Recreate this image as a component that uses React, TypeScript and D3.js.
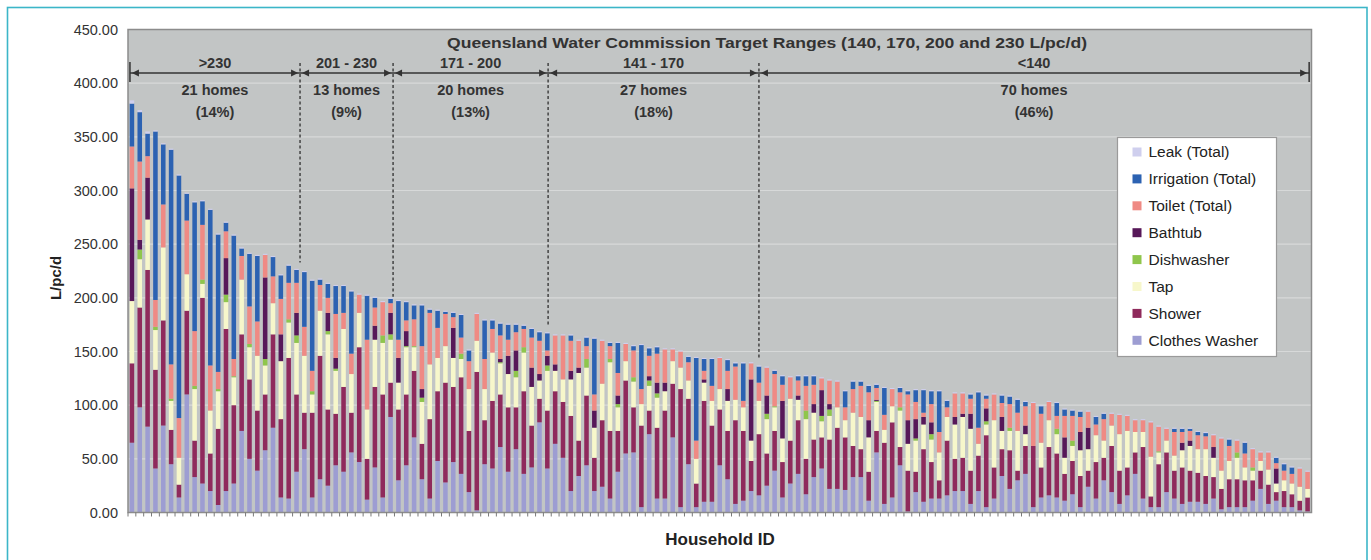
import React from 'react';
import * as d3 from 'd3';

// ---------- DATA (L/pc/d per household, sorted by total) ----------
const householdIds = d3.range(1, 152).map((d) => String(d));

const clothesWasher = [
  65, 98, 80, 41, 81, 45, 14, 110, 33, 27, 20, 7, 20, 27, 76, 50, 39, 58, 79, 14,
  13, 38, 59, 14, 31, 25, 44, 38, 56, 47, 12, 42, 14, 89, 30, 44, 70, 31, 13, 48,
  28, 47, 36, 19, 2, 45, 41, 61, 38, 59, 36, 42, 84, 41, 64, 51, 20, 34, 44, 20,
  24, 13, 38, 55, 56, 5, 73, 13, 13, 70, 5, 45, 5, 10, 10, 44, 31, 8, 11, 20,
  16, 25, 39, 14, 27, 36, 17, 33, 41, 22, 22, 21, 33, 33, 11, 56, 8, 14, 44, 1,
  19, 10, 13, 13, 16, 20, 20, 8, 20, 5, 13, 34, 22, 30, 36, 5, 14, 16, 14, 11,
  17, 5, 24, 13, 30, 19, 8, 16, 36, 13, 5, 5, 19, 13, 8, 10, 10, 8, 13, 3,
  5, 5, 5, 11, 22, 8, 11, 5, 5, 2, 1,
];
const shower = [
  74, 93, 146, 92, 98, 32, 12, 78, 34, 173, 35, 71, 151, 73, 90, 74, 56, 52, 87, 73,
  131, 72, 34, 79, 115, 71, 48, 79, 37, 107, 38, 75, 96, 32, 66, 66, 62, 33, 74, 65,
  93, 70, 90, 57, 129, 41, 63, 49, 60, 39, 77, 39, 22, 54, 49, 52, 70, 33, 65, 31,
  62, 63, 38, 68, 42, 76, 22, 66, 82, 50, 110, 61, 22, 94, 71, 52, 45, 78, 65, 28,
  57, 30, 37, 33, 40, 50, 33, 35, 29, 46, 57, 49, 29, 26, 27, 20, 57, 70, 17, 38,
  19, 49, 34, 17, 51, 30, 31, 31, 33, 67, 29, 25, 36, 9, 26, 57, 28, 45, 41, 25,
  31, 29, 15, 34, 21, 43, 31, 26, 20, 48, 10, 40, 37, 26, 34, 29, 27, 26, 20, 19,
  26, 26, 25, 19, 17, 18, 8, 15, 12, 9, 13,
];
const tap = [
  58, 45, 47, 37, 68, 27, 25, 34, 48, 13, 40, 35, 25, 26, 51, 30, 51, 27, 29, 54,
  33, 48, 53, 17, 42, 70, 40, 54, 36, 32, 46, 44, 48, 40, 25, 44, 22, 39, 51, 31,
  34, 27, 17, 39, 29, 29, 45, 29, 31, 28, 36, 36, 17, 37, 19, 21, 34, 63, 26, 28,
  34, 64, 22, 18, 24, 20, 23, 28, 18, 21, 20, 17, 23, 17, 23, 19, 28, 19, 22, 19,
  31, 32, 22, 22, 39, 19, 37, 25, 15, 22, 19, 16, 31, 30, 32, 27, 12, 15, 34, 25,
  29, 23, 21, 26, 22, 32, 38, 39, 11, 10, 44, 17, 18, 37, 11, 0, 23, 25, 18, 15,
  14, 24, 20, 25, 16, 19, 34, 34, 19, 14, 37, 11, 11, 14, 16, 23, 22, 25, 18, 17,
  17, 20, 12, 9, 9, 14, 8, 10, 10, 13, 8,
];
const dishwasher = [
  0, 9, 0, 3, 0, 2, 0, 0, 3, 4, 0, 2, 7, 1, 0, 3, 0, 6, 0, 0,
  3, 7, 0, 3, 0, 3, 2, 0, 0, 0, 0, 0, 7, 5, 0, 1, 1, 4, 0, 0,
  0, 0, 5, 0, 0, 0, 0, 1, 0, 6, 5, 0, 0, 5, 0, 0, 0, 0, 8, 0,
  0, 3, 3, 0, 4, 0, 5, 4, 0, 0, 0, 0, 0, 0, 0, 0, 0, 0, 0, 0,
  0, 5, 1, 0, 0, 0, 8, 0, 5, 6, 0, 0, 0, 0, 0, 1, 0, 0, 3, 0,
  2, 0, 5, 0, 0, 0, 0, 0, 0, 3, 0, 0, 3, 0, 0, 0, 0, 0, 5, 0,
  5, 0, 0, 0, 0, 0, 0, 0, 0, 0, 0, 1, 0, 0, 0, 0, 0, 0, 0, 0,
  0, 5, 0, 3, 0, 0, 0, 0, 0, 0, 0,
];
const bathtub = [
  105, 9, 39, 0, 0, 0, 0, 0, 0, 0, 0, 0, 34, 0, 0, 0, 0, 76, 0, 25,
  0, 21, 0, 0, 0, 17, 10, 0, 0, 0, 0, 13, 0, 20, 23, 14, 0, 8, 0, 0,
  0, 28, 0, 0, 0, 0, 0, 3, 17, 19, 0, 18, 6, 9, 6, 0, 8, 5, 0, 16,
  0, 0, 8, 0, 0, 0, 4, 10, 8, 0, 0, 0, 0, 3, 0, 0, 11, 0, 0, 57,
  0, 17, 0, 35, 0, 4, 0, 8, 24, 5, 0, 0, 0, 0, 16, 1, 0, 0, 0, 22,
  18, 7, 11, 0, 0, 7, 3, 14, 0, 12, 0, 13, 0, 0, 8, 0, 0, 0, 0, 19,
  0, 17, 20, 0, 0, 0, 0, 0, 0, 0, 0, 0, 0, 0, 7, 5, 0, 0, 10, 0,
  0, 0, 0, 0, 0, 0, 14, 0, 0, 0, 0,
];
const toilet = [
  39, 73, 20, 25, 40, 32, 37, 50, 51, 51, 42, 16, 25, 16, 22, 35, 32, 21, 25, 33,
  34, 28, 27, 19, 24, 14, 41, 15, 19, 17, 65, 17, 31, 9, 17, 10, 25, 40, 48, 28,
  30, 10, 15, 26, 25, 28, 22, 22, 15, 17, 17, 28, 31, 5, 27, 41, 28, 25, 12, 15,
  40, 12, 21, 16, 25, 14, 19, 27, 31, 11, 15, 17, 17, 8, 14, 29, 17, 31, 6, 15,
  17, 26, 30, 15, 20, 14, 23, 18, 11, 22, 24, 12, 22, 29, 26, 11, 14, 16, 14, 24,
  16, 4, 17, 19, 9, 22, 19, 14, 15, 9, 24, 13, 22, 17, 18, 40, 27, 17, 12, 20,
  23, 14, 15, 10, 20, 11, 18, 14, 11, 11, 32, 23, 11, 22, 10, 9, 13, 12, 11, 30,
  14, 11, 13, 17, 8, 16, 5, 9, 9, 17, 16,
];
const irrigation = [
  40, 46, 21, 157, 56, 200, 226, 25, 120, 22, 145, 128, 8, 115, 7, 49, 61, 0, 18, 22,
  16, 12, 51, 84, 5, 13, 26, 25, 58, 0, 41, 9, 0, 4, 36, 17, 13, 38, 3, 16,
  2, 4, 21, 10, 0, 36, 8, 11, 14, 7, 3, 8, 8, 16, 0, 0, 5, 0, 8, 52,
  0, 3, 28, 0, 4, 41, 7, 6, 0, 0, 0, 5, 77, 11, 25, 0, 10, 3, 35, 0,
  15, 0, 3, 8, 0, 4, 9, 8, 0, 0, 0, 15, 7, 4, 6, 3, 25, 0, 4, 3,
  11, 21, 12, 38, 6, 0, 0, 4, 33, 3, 0, 7, 7, 12, 4, 0, 7, 0, 12, 6,
  5, 5, 0, 7, 5, 0, 0, 0, 0, 0, 0, 0, 0, 3, 3, 2, 3, 3, 0, 0,
  6, 0, 10, 0, 0, 0, 5, 6, 6, 0, 0,
];
const leak = [
  3, 2, 2, 1, 1, 1, 1, 1, 1, 1, 1, 1, 1, 1, 1, 1, 1, 1, 1, 1,
  1, 1, 1, 1, 1, 1, 1, 1, 1, 1, 1, 1, 1, 1, 1, 1, 1, 1, 1, 1,
  1, 1, 1, 1, 1, 1, 1, 1, 1, 1, 1, 1, 1, 1, 1, 1, 1, 1, 1, 1,
  1, 1, 1, 1, 1, 1, 1, 1, 1, 1, 1, 1, 1, 1, 1, 1, 1, 1, 1, 1,
  1, 1, 1, 1, 1, 1, 1, 1, 1, 1, 1, 1, 1, 1, 1, 1, 1, 1, 1, 1,
  1, 1, 1, 1, 1, 1, 1, 1, 1, 1, 1, 1, 1, 1, 1, 1, 1, 1, 1, 1,
  1, 1, 1, 1, 1, 1, 1, 1, 1, 1, 1, 1, 1, 1, 1, 1, 1, 1, 1, 1,
  1, 1, 1, 1, 1, 1, 1, 1, 1, 1, 1,
];

const seriesKeys = ['clothesWasher', 'shower', 'tap', 'dishwasher', 'bathtub', 'toilet', 'irrigation', 'leak'];
const seriesLabels = ['Clothes Washer', 'Shower', 'Tap', 'Dishwasher', 'Bathtub', 'Toilet (Total)', 'Irrigation (Total)', 'Leak (Total)'];
const seriesColors = ['#9d9dd2', '#8f2a5c', '#f7f7cb', '#8fc64c', '#571859', '#ef8a84', '#2c62b2', '#cfcfee'];
const seriesValues = [clothesWasher, shower, tap, dishwasher, bathtub, toilet, irrigation, leak];

const yTicks = [0, 50, 100, 150, 200, 250, 300, 350, 400, 450];

const titleText = 'Queensland Water Commission Target Ranges (140, 170, 200 and 230 L/pc/d)';
const rangeLabels = ['>230', '201 - 230', '171 - 200', '141 - 170', '<140'];
const homesLabels = ['21 homes', '13 homes', '20 homes', '27 homes', '70 homes'];
const pctLabels = ['(14%)', '(9%)', '(13%)', '(18%)', '(46%)'];
// boundaries of the annotated groups, in household positions along the axis
const rangeBounds = [0.25, 21.95, 33.82, 53.6, 80.5, 150.7];
// value (L/pc/d) where each inner dashed divider stops
const dashEnds = [233, 201, 174, 142];

// ---------- LAYOUT ----------
const W = 1371;
const H = 560;
const plot = { left: 128, right: 1311.5, top: 29.5, bottom: 512.5 };
const FONT = "'Liberation Sans', Arial, Helvetica, sans-serif";

export default function App() {
  const table = householdIds.map((id, i) => {
    const row: Record<string, any> = { id };
    seriesKeys.forEach((k, s) => (row[k] = seriesValues[s][i]));
    return row;
  });
  const stacked = d3.stack<any>().keys(seriesKeys)(table);

  const x = d3
    .scaleBand<string>()
    .domain(householdIds)
    .range([plot.left, plot.right])
    .paddingInner(0.42)
    .paddingOuter(0.21);
  const y = d3.scaleLinear().domain([0, 450]).range([plot.bottom, plot.top]);
  const step = x.step();
  const bx = (b: number) => plot.left + b * step;

  const arrowY = 73;
  const arrowHead = (px: number, dir: number, key: string) => (
    <path
      key={key}
      d={`M${px},${arrowY} L${px - dir * 7},${arrowY - 3.5} L${px - dir * 7},${arrowY + 3.5} Z`}
      fill="#333"
    />
  );

  const legendX = 1117.5;
  const legendY = 137.5;
  const legendRow = 26.9;
  const legendOrder = d3.range(seriesKeys.length).reverse();

  return (
    <svg
      width={W}
      height={H}
      style={{ position: 'absolute', left: 0, top: 0, background: '#ffffff' }}
      fontFamily={FONT}
    >
      <rect x={0} y={0} width={W} height={H} fill="#ffffff" />
      {/* outer frame */}
      <rect x={7.5} y={7.5} width={1359.5} height={600} fill="none" stroke="#3cb6c8" strokeWidth={1.6} />

      {/* plot background */}
      <rect
        x={plot.left}
        y={plot.top}
        width={plot.right - plot.left}
        height={plot.bottom - plot.top}
        fill="#c2c5c5"
      />
      {/* gridlines */}
      {yTicks.slice(1, -1).map((t) => (
        <line key={t} x1={plot.left} x2={plot.right} y1={y(t)} y2={y(t)} stroke="#d7d9d9" strokeWidth={1.2} />
      ))}

      {/* bars */}
      {stacked.map((layer, s) => (
        <g key={layer.key} fill={seriesColors[s]}>
          {layer.map((d, i) => {
            const h = y(d[0]) - y(d[1]);
            if (h <= 0) return null;
            return (
              <rect
                key={i}
                x={x(householdIds[i])}
                y={y(d[1])}
                width={x.bandwidth()}
                height={h}
              />
            );
          })}
        </g>
      ))}

      {/* plot border */}
      <rect
        x={plot.left}
        y={plot.top}
        width={plot.right - plot.left}
        height={plot.bottom - plot.top}
        fill="none"
        stroke="#8c8c8c"
        strokeWidth={1.5}
      />
      {/* x ticks */}
      {householdIds.map((id, i) => {
        const px = plot.left + i * step;
        return <line key={id} x1={px} x2={px} y1={plot.bottom} y2={plot.bottom + 4} stroke="#7a7a7a" strokeWidth={1} />;
      })}

      {/* y tick labels */}
      {yTicks.map((t) => (
        <text key={t} x={118} y={y(t)} dy="0.35em" textAnchor="end" fontSize={14.5} fill="#333">
          {t.toFixed(2)}
        </text>
      ))}

      {/* axis titles */}
      <text
        transform={`translate(61,${(plot.top + plot.bottom) / 2 + 7}) rotate(-90)`}
        textAnchor="middle"
        fontSize={15}
        fontWeight="bold"
        fill="#222"
      >
        L/pc/d
      </text>
      <text x={720} y={545} textAnchor="middle" fontSize={17} fontWeight="bold" fill="#222">
        Household ID
      </text>

      {/* annotation */}
      <text
        x={767}
        y={48}
        textAnchor="middle"
        fontSize={15.5}
        fontWeight="bold"
        fill="#333"
        textLength={640}
        lengthAdjust="spacingAndGlyphs"
      >
        {titleText}
      </text>
      <line x1={bx(rangeBounds[0])} x2={bx(rangeBounds[5])} y1={arrowY} y2={arrowY} stroke="#333" strokeWidth={1.3} />
      {rangeBounds.slice(0, -1).map((b, k) => {
        const a = bx(b) + 2;
        const c = bx(rangeBounds[k + 1]) - 2;
        return (
          <g key={`ar${k}`}>
            {arrowHead(a, -1, `l${k}`)}
            {arrowHead(c, 1, `r${k}`)}
          </g>
        );
      })}
      {[rangeBounds[0], rangeBounds[5]].map((b, k) => (
        <line key={`end${k}`} x1={bx(b)} x2={bx(b)} y1={62} y2={82} stroke="#333" strokeWidth={1.5} />
      ))}
      {rangeBounds.slice(1, -1).map((b, k) => (
        <line
          key={`dash${k}`}
          x1={bx(b)}
          x2={bx(b)}
          y1={63}
          y2={y(dashEnds[k])}
          stroke="#3a3a3a"
          strokeWidth={1.4}
          strokeDasharray="3,2.5"
        />
      ))}
      {rangeLabels.map((lab, k) => {
        const cx = (bx(rangeBounds[k]) + bx(rangeBounds[k + 1])) / 2;
        return (
          <g key={`lab${k}`} textAnchor="middle" fontWeight="bold" fontSize={14.5} fill="#333">
            <text x={cx} y={68}>{lab}</text>
            <text x={cx} y={95}>{homesLabels[k]}</text>
            <text x={cx} y={117}>{pctLabels[k]}</text>
          </g>
        );
      })}

      {/* legend */}
      <rect x={legendX} y={legendY} width={159} height={219} fill="#ffffff" stroke="#9a9a9a" strokeWidth={1.2} />
      {legendOrder.map((s, r) => {
        const cy = legendY + 14.5 + r * legendRow;
        return (
          <g key={seriesKeys[s]}>
            <rect x={legendX + 15} y={cy - 4.5} width={9} height={9} fill={seriesColors[s]} />
            <text x={legendX + 31} y={cy} dy="0.35em" fontSize={15.5} fill="#222">
              {seriesLabels[s]}
            </text>
          </g>
        );
      })}
    </svg>
  );
}
